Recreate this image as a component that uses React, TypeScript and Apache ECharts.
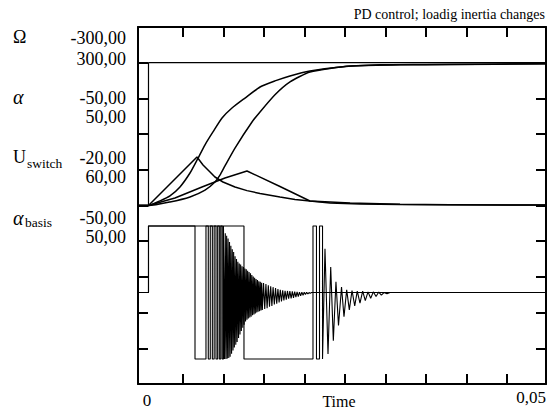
import React, { useEffect, useRef } from "react";
import * as echarts from "echarts";

// ---- data (time in ms) ----
const timeRangeMs = [-1.32, 50];
const titleText = "PD control; loadig inertia changes";
const xAxisName = "Time";
const xTickLabels = ["0", "0,05"];
const channelNames = ["Ω", "α", "U", "α"];
const channelSubs = ["", "", "switch", "basis"];
const channelMinLabels = ["-300,00", "-50,00", "-20,00", "-50,00"];
const channelMaxLabels = ["300,00", "50,00", "60,00", "50,00"];
const channelRanges = [
  [-300, 300],
  [-50, 50],
  [-20, 60],
  [-50, 50],
];

// Ω: speed, two loading inertias
const omega1 = [[-1.32, 0], [0, 0], [6.10, 81.5], [6.86, 68.1], [7.74, 56.3], [8.36, 47.9], [9.37, 39.5], [10.88, 31.1], [12.39, 25.0], [14.03, 20.2], [16.54, 14.3], [18.43, 10.1], [20.31, 7.6], [25.35, 4.2], [31.64, 2.2], [37.93, 1.3], [50, 0.8]];
const omega2 = [[-1.32, 0], [0, 0], [3.33, 12.6], [6.73, 31.1], [9.62, 46.2], [12.39, 58.0], [16.54, 32.0], [20.31, 7.6], [22.83, 4.2], [26.60, 2.5], [31.64, 1.5], [50, 0.8]];

// α: position
const alpha1 = [[-1.32, 0], [0, 0], [1.45, 1.3], [2.70, 2.7], [3.96, 5.2], [5.22, 9.1], [6.10, 12.7], [7.11, 17.0], [8.11, 20.6], [9.25, 24.5], [10.50, 27.3], [12.14, 30.1], [14.03, 33.2], [15.91, 34.9], [17.80, 36.3], [20.31, 37.7], [24.09, 38.8], [29.12, 39.4], [34.15, 39.5], [50, 39.7]];
const alpha2 = [[-1.32, 0], [0, 0], [2.70, 1.0], [5.22, 2.4], [7.11, 4.3], [8.36, 6.6], [8.99, 8.5], [9.62, 11.1], [10.88, 16.1], [13.02, 23.4], [14.03, 26.2], [15.91, 31.0], [17.80, 34.6], [20.31, 37.4], [25.35, 39.1], [31.64, 39.4], [37.93, 39.5], [50, 39.7]];

// U_switch: switching voltage
const uSwitch1 = [
  [-1.32, 0.5], [0, 0.5], [0, 15.4], [5.85, 15.4], [5.85, -14.4], [7.23, -14.4], [7.23, 15.4], [7.52, 15.4], [7.52, -14.4],
  [7.77, -14.4], [7.77, 15.4], [8.03, 15.4], [8.03, -14.4], [8.26, -14.4], [8.26, 15.4], [8.49, 15.4], [8.49, -14.4],
  [8.70, -14.4], [8.70, 15.4], [8.91, 15.4], [8.91, -14.4], [9.09, -14.4], [9.09, 15.4], [9.27, 15.4], [9.27, -14.4],
  [9.43, -14.4], [9.43, 15.4],
  [9.57, -14.4], [9.66, 13.8], [9.75, -14.4], [9.83, 13.2], [9.92, -14.3], [10.01, 12.6], [10.10, -14.2], [10.19, 11.8],
  [10.27, -13.9], [10.36, 11.0], [10.45, -13.2], [10.54, 10.2], [10.63, -12.5], [10.71, 9.6], [10.80, -11.8], [10.89, 8.6],
  [10.98, -11.2], [11.07, 8.0], [11.15, -10.6], [11.24, 7.4], [11.33, -9.7], [11.42, 7.0], [11.51, -8.9], [11.59, 6.8],
  [11.68, -8.1], [11.77, 6.4], [11.86, -7.4], [11.95, 6.2], [12.03, -6.7], [12.12, 5.9], [12.21, -6.0], [12.30, 5.7],
  [12.39, -5.6], [12.47, 5.4], [12.56, -5.3], [12.65, 5.1], [12.74, -5.1], [12.83, 4.8], [12.91, -4.9], [13.00, 4.4],
  [13.09, -4.6], [13.18, 4.1], [13.27, -4.4], [13.35, 3.8], [13.44, -4.2], [13.53, 3.5], [13.62, -4.0], [13.71, 3.3],
  [13.79, -3.8], [13.88, 3.0], [13.97, -3.7], [14.06, 2.9], [14.15, -3.5], [14.23, 2.7], [14.32, -3.4],
  [14.47, 2.6], [14.62, -3.2], [14.77, 2.4], [14.92, -3.0], [15.07, 2.1], [15.22, -2.7], [15.37, 1.9], [15.52, -2.5],
  [15.67, 1.7], [15.83, -2.2], [15.98, 1.5], [16.13, -2.0], [16.28, 1.3], [16.43, -1.7], [16.58, 1.1], [16.73, -1.5],
  [16.88, 1.0], [17.03, -1.3], [17.18, 0.9], [17.33, -1.1], [17.48, 0.85], [17.63, -0.9], [17.78, 0.8], [17.94, -0.8],
  [18.09, 0.75], [18.24, -0.7], [18.39, 0.7], [18.54, -0.55], [18.69, 0.65], [18.84, -0.4], [18.99, 0.6], [19.14, -0.25],
  [19.29, 0.6], [19.44, -0.1], [19.59, 0.55], [19.74, 0.05], [19.89, 0.55], [20.05, 0.2], [20.20, 0.5], [20.35, 0.3],
  [20.50, 0.5], [50, 0.5],
];
const uSwitch2 = [
  [-1.32, 0.5], [0, 0.5], [0, 15.4], [12.01, 15.4], [12.01, -14.4], [20.69, -14.4], [20.69, 15.4], [21.13, 15.4],
  [21.13, -14.4], [21.51, -14.4], [21.51, 15.4], [21.89, 15.4], [21.89, -14.4],
  [22.20, 10.3], [22.58, -13.3], [22.92, 6.2], [23.25, -10.3], [23.58, 2.9], [23.90, -6.9], [24.28, 1.7], [24.59, -4.9],
  [24.93, 1.1], [25.26, -3.4], [25.60, 0.95], [25.94, -2.5], [26.26, 0.8], [26.60, -1.9], [26.94, 0.8], [27.27, -1.3],
  [27.61, 0.65], [27.95, -0.8], [28.28, 0.65], [28.62, -0.4], [28.96, 0.6], [29.29, -0.1], [29.62, 0.5], [30.00, 0.2],
  [30.38, 0.5], [50, 0.5],
];

// α_basis: reference step
const alphaBasis = [[-1.32, 0], [0, 0], [0, 40], [50, 40]];

// ---- layout ----
const SERIF = '"Liberation Serif", "DejaVu Serif", serif';
const nameLabelY = [37, 97, 157, 218];
const minLabelY = [38, 98, 158, 218];
const maxLabelY = [59, 117, 177, 237];

function txt(x: number, y: number, text: string, size: number, align: string, italic = false) {
  return {
    type: "text", x, y, silent: true,
    style: {
      text, fill: "#000",
      font: `${italic ? "italic " : ""}${size}px ${SERIF}`,
      align, verticalAlign: "middle",
    },
  };
}

function buildOption() {
  const graphic: any[] = [];
  channelNames.forEach((n, i) => {
    const isGreek = n === "α";
    graphic.push(txt(13, nameLabelY[i], n, isGreek ? 20 : 18, "left", isGreek));
    if (channelSubs[i]) {
      graphic.push(txt(isGreek ? 25 : 27, nameLabelY[i] + (isGreek ? 4 : 6), channelSubs[i], 13.5, "left"));
    }
    graphic.push(txt(126, minLabelY[i], channelMinLabels[i], 18, "right"));
    graphic.push(txt(126, maxLabelY[i], channelMaxLabels[i], 18, "right"));
  });
  graphic.push(txt(545, 14, titleText, 14, "right"));
  graphic.push(txt(147, 400, xTickLabels[0], 17, "center"));
  graphic.push(txt(546, 397, xTickLabels[1], 17, "right"));
  graphic.push(txt(339, 401, xAxisName, 16, "center"));

  const frameLine = { show: true, onZero: false, lineStyle: { color: "#000", width: 2 } };
  const frameTick = { show: true, inside: true, length: 10, lineStyle: { color: "#000", width: 2 } };
  const divX = (position: string) => ({
    type: "value", position, min: -0.111, max: 9.963,
    axisLine: frameLine,
    axisTick: { ...frameTick, customValues: [1, 2, 3, 4, 5, 6, 7, 8, 9] },
    axisLabel: { show: false }, splitLine: { show: false },
  });
  const divY = (position: string) => ({
    type: "value", position, min: 0, max: 10, interval: 1,
    axisLine: frameLine, axisTick: frameTick,
    axisLabel: { show: false }, splitLine: { show: false },
  });
  const hiddenY = (r: number[]) => ({
    type: "value", show: false, min: r[0], max: r[1],
    axisLine: { onZero: false }, splitLine: { show: false },
  });

  const line = (name: string, data: number[][], yAxisIndex: number, width: number, smooth: number | boolean) => ({
    type: "line", name, data, xAxisIndex: 0, yAxisIndex, showSymbol: false, symbol: "none",
    smooth, lineStyle: { color: "#000", width }, itemStyle: { color: "#000" }, silent: true, z: 3,
  });

  return {
    animation: false,
    backgroundColor: "#fff",
    grid: { left: 138, top: 27, width: 408, height: 357, containLabel: false, outerBoundsMode: "none" },
    xAxis: [
      {
        type: "value", min: timeRangeMs[0], max: timeRangeMs[1],
        axisLine: { show: false, onZero: false }, axisTick: { show: false }, axisLabel: { show: false }, splitLine: { show: false },
      },
      divX("bottom"),
      divX("top"),
    ],
    yAxis: [
      divY("left"),
      divY("right"),
      hiddenY(channelRanges[0]),
      hiddenY(channelRanges[1]),
      hiddenY(channelRanges[2]),
      hiddenY(channelRanges[3]),
    ],
    series: [
      line("Ω (J1)", omega1, 2, 1.5, false),
      line("Ω (J2)", omega2, 2, 1.5, false),
      line("α (J1)", alpha1, 3, 1.5, 0.2),
      line("α (J2)", alpha2, 3, 1.5, 0.2),
      line("U_switch (J1)", uSwitch1, 4, 1.1, false),
      line("U_switch (J2)", uSwitch2, 4, 1.1, false),
      line("α_basis", alphaBasis, 5, 1.2, false),
    ],
    graphic,
  };
}

export default function App() {
  const ref = useRef<HTMLDivElement>(null);
  useEffect(() => {
    if (!ref.current) return;
    const chart = echarts.init(ref.current, null, { renderer: "svg" });
    chart.setOption(buildOption() as any);
    return () => chart.dispose();
  }, []);
  return (
    <div
      ref={ref}
      style={{ position: "fixed", left: 0, top: 0, width: 548, height: 412, background: "#fff" }}
    />
  );
}
